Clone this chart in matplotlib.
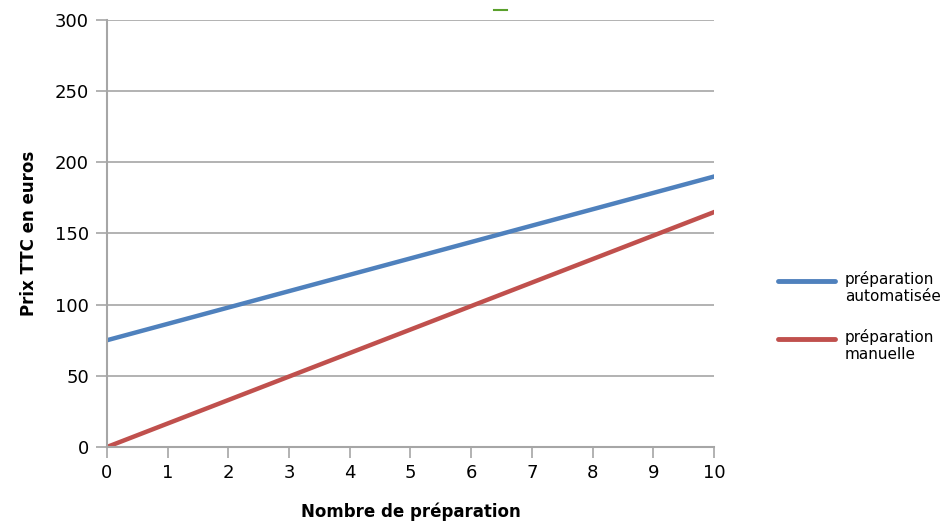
import matplotlib.pyplot as plt
from matplotlib.lines import Line2D

nb_prep = [0, 1, 2, 3, 4, 5, 6, 7, 8, 9, 10]
prix_auto = [75, 86.5, 98, 109.5, 121, 132.5, 144, 155.5, 167, 178.5, 190]
prix_manuel = [0, 16.5, 33, 49.5, 66, 82.5, 99, 115.5, 132, 148.5, 165]

series = [('préparation\nautomatisée', prix_auto, '#4f81bd'),
          ('préparation\nmanuelle', prix_manuel, '#c0504d')]

fig = plt.figure(figsize=(9.44, 5.22), dpi=100)
ax = fig.add_axes([0.1133, 0.1437, 0.643, 0.818])

for label, vals, col in series:
    ax.plot(nb_prep, vals, color=col, linewidth=3.2, label=label)

ax.set_xlim(0, 10)
ax.set_ylim(0, 300)
ax.set_xticks(range(0, 11))
ax.set_yticks(range(0, 301, 50))
ax.grid(axis='y', color='#a6a6a6', linewidth=1.2)
ax.set_axisbelow(True)

for side in ['top', 'right']:
    ax.spines[side].set_visible(False)
for side in ['left', 'bottom']:
    ax.spines[side].set_color('#a6a6a6')
    ax.spines[side].set_linewidth(1.5)
ax.tick_params(axis='both', colors='#a6a6a6', width=1.2, length=8, labelsize=13,
               labelcolor='black')
ax.tick_params(axis='y', pad=5)
ax.tick_params(axis='x', pad=4)

ax.set_xlabel('Nombre de préparation', fontsize=12, fontweight='bold', labelpad=15)
ax.set_ylabel('Prix TTC en euros', fontsize=12, fontweight='bold', labelpad=12)

# légende à droite (trait aligné sur la première ligne du texte)
leg_y = [1 - 281 / 522, 1 - 339 / 522]
for (label, vals, col), y in zip(series, leg_y):
    fig.add_artist(Line2D([778 / 944, 835 / 944], [y, y], color=col, linewidth=3.5,
                          solid_capstyle='round'))
    fig.text(845 / 944, y + 10 / 522, label, fontsize=11, va='top', ha='left',
             linespacing=1.2)

# petit trait vert en haut (reste du titre)
fig.add_artist(Line2D([494 / 944, 507 / 944], [1 - 10 / 522, 1 - 10 / 522],
                      color='#5aa02c', linewidth=1.5))

fig.savefig('out.png', dpi=100)
